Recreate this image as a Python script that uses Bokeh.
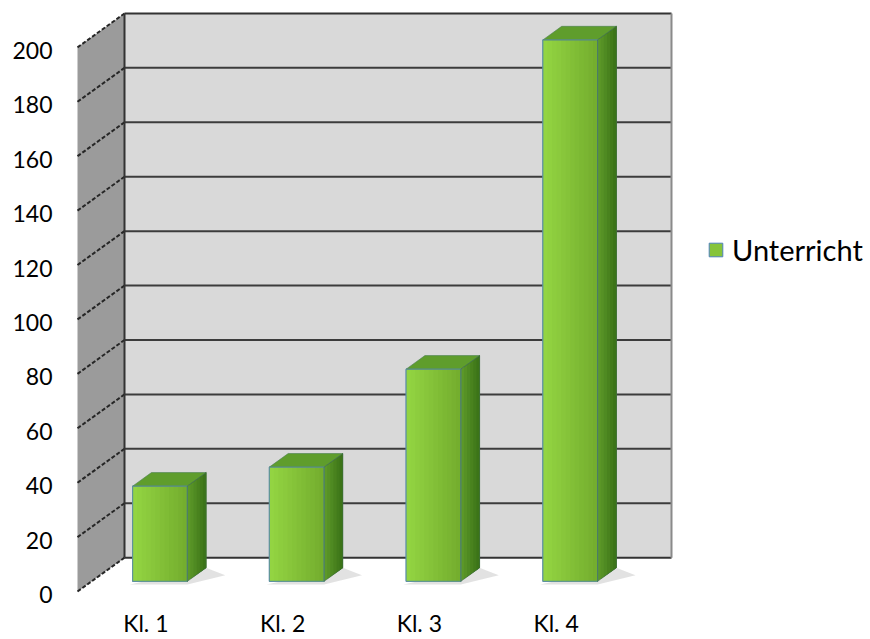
from bokeh.plotting import figure
from bokeh.models import Range1d, FixedTicker, Legend, LegendItem, LinearAxis
from bokeh.embed import file_html
from bokeh.resources import INLINE

# ---------------- data ----------------
categories = ["Kl. 1", "Kl. 2", "Kl. 3", "Kl. 4"]
values = [35, 42, 78, 199]
y_ticks = [0, 20, 40, 60, 80, 100, 120, 140, 160, 180, 200]
series_name = "Unterricht"

# ---------------- geometry / style ----------------
W, H = 870, 639
PX_X = 136.75          # px per category unit (front plane)
PX_Y = 2.73            # px per value unit
X0_PX, Y0_PX = 77, 593  # canvas px of front-plane origin
FRAME_LEFT, FRAME_BOTTOM = 60, 600
DX = 47 / PX_X         # depth offset (x, category units)
DY = 34 / PX_Y         # depth offset (y, value units)
D0 = 0.3               # depth of bar front faces
BD = 0.4               # bar depth
HW = 0.2               # half bar width
YMAX = y_ticks[-1]
NCAT = len(categories)
FONT = "Lato"
LABEL_DROP = 3 / PX_Y  # value labels sit slightly below their tick

y0v = -(FRAME_BOTTOM - Y0_PX) / PX_Y
y1v = Y0_PX / PX_Y
x_range = Range1d((FRAME_LEFT - X0_PX) / PX_X, (W - X0_PX) / PX_X)
y_range = Range1d(y0v, y1v)

p = figure(width=W, height=H, x_range=x_range, y_range=y_range,
           output_backend="svg", toolbar_location=None, y_axis_location=None,
           min_border_left=FRAME_LEFT, min_border_right=0,
           min_border_top=0, min_border_bottom=H - FRAME_BOTTOM)
p.outline_line_color = None
p.xgrid.visible = False
p.ygrid.visible = False
p.background_fill_color = "white"
p.border_fill_color = "white"

# value axis (front plane)
p.extra_y_ranges = {"lab": Range1d(y0v + LABEL_DROP, y1v + LABEL_DROP)}
yax = LinearAxis(y_range_name="lab", ticker=FixedTicker(ticks=y_ticks))
yax.axis_line_color = None
yax.major_tick_line_color = None
yax.minor_tick_line_color = None
yax.major_tick_out = 0
yax.major_label_standoff = 8
yax.major_label_text_font = FONT
yax.major_label_text_font_size = "23px"
yax.major_label_text_color = "black"
p.add_layout(yax, "left")

# category axis
xt = [i + 0.5 for i in range(NCAT)]
p.xaxis.ticker = FixedTicker(ticks=xt)
p.xaxis.major_label_overrides = {t: c for t, c in zip(xt, categories)}
p.xaxis.axis_line_color = None
p.xaxis.major_tick_line_color = None
p.xaxis.minor_tick_line_color = None
p.xaxis.major_tick_out = 0
p.xaxis.major_label_standoff = 10
p.xaxis.major_label_text_font = FONT
p.xaxis.major_label_text_font_size = "23px"
p.xaxis.major_label_text_color = "black"

# ---------------- walls ----------------
p.patch([0, DX, DX, 0], [0, DY, YMAX + DY, YMAX], fill_color="#9b9b9b", line_color=None)
p.quad(left=[DX], right=[NCAT + DX], bottom=[DY], top=[YMAX + DY],
       fill_color="#d9d9d9", line_color=None)

inner = y_ticks[1:-1]
p.segment(x0=[DX] * len(inner), x1=[NCAT + DX] * len(inner),
          y0=[t + DY for t in inner], y1=[t + DY for t in inner],
          line_color="#3c3c3c", line_width=2)
# left-wall tick lines (dashed)
p.segment(x0=[0] * len(y_ticks), x1=[DX] * len(y_ticks),
          y0=y_ticks, y1=[t + DY for t in y_ticks],
          line_color="#262626", line_width=2, line_dash="4 2")
# back wall borders
p.segment(x0=[DX, DX, DX], x1=[NCAT + DX, NCAT + DX, DX],
          y0=[YMAX + DY, DY, DY], y1=[YMAX + DY, DY, YMAX + DY],
          line_color="#333333", line_width=2)
p.segment(x0=[NCAT + DX], x1=[NCAT + DX], y0=[DY], y1=[YMAX + DY],
          line_color="#8a8a8a", line_width=2)

# ---------------- bars ----------------
def lerp(c1, c2, t):
    return "#%02x%02x%02x" % tuple(int(round(a + (b - a) * t)) for a, b in zip(c1, c2))

front_l, front_r = (0x93, 0xd4, 0x42), (0x74, 0xae, 0x2e)
side_l, side_r = (0x5c, 0x98, 0x28), (0x3c, 0x74, 0x18)
NS = 12
NS2 = 6

base_r = None
for i, v in enumerate(values):
    cx = i + 0.5 + D0 * DX
    yb = D0 * DY
    yt = yb + v
    l, r = cx - HW, cx + HW
    ddx, ddy = BD * DX, BD * DY
    # shadow
    p.patch([l - 0.02, r, r + ddx + 0.14, r + ddx + 0.05, r + ddx],
            [yb - 1.2, yb - 1.2, yb + ddy * 0.45, yb + ddy * 0.8, yb + ddy],
            fill_color="#7a7a7a", fill_alpha=0.22, line_color=None)
    # front base (legend glyph)
    rr = p.quad(left=[l], right=[r], bottom=[yb], top=[yt],
                fill_color="#86c43a", line_color="#4f81bd", line_width=1)
    if base_r is None:
        base_r = rr
    # front gradient: overlapping bands (no seams)
    w = (r - l) / NS
    p.quad(left=[l + k * w for k in range(NS)], right=[r] * NS,
           bottom=[yb] * NS, top=[yt] * NS,
           fill_color=[lerp(front_l, front_r, k / (NS - 1)) for k in range(NS)],
           line_color=None)
    # side face: overlapping bands
    sxs, sys = [], []
    for k in range(NS2):
        a = k / NS2
        sxs.append([r + ddx * a, r + ddx, r + ddx, r + ddx * a])
        sys.append([yb + ddy * a, yb + ddy, yt + ddy, yt + ddy * a])
    p.patches(sxs, sys,
              fill_color=[lerp(side_l, side_r, k / (NS2 - 1)) for k in range(NS2)],
              line_color=None)
    # top face
    p.patch([l, r, r + ddx, l + ddx], [yt, yt, yt + ddy, yt + ddy],
            fill_color="#5f9d2c", line_color="#4a7f50", line_width=1, line_alpha=0.6)
    # outlines
    p.quad(left=[l], right=[r], bottom=[yb], top=[yt], fill_alpha=0,
           line_color="#5b8fa0", line_width=1.2, line_alpha=0.8)
    p.patch([r, r + ddx, r + ddx, r], [yb, yb + ddy, yt + ddy, yt],
            fill_alpha=0, line_color="#3d6b4a", line_width=1, line_alpha=0.6)

# ---------------- legend ----------------
legend = Legend(items=[LegendItem(label=series_name, renderers=[base_r])],
                location=(647, 331), padding=0, margin=0, spacing=0,
                glyph_width=17, glyph_height=17, label_standoff=8,
                label_text_font=FONT, label_text_font_size="29px",
                label_text_color="black",
                border_line_color=None, background_fill_alpha=0)
p.add_layout(legend)

open("out.html", "w").write(file_html(p, INLINE))
